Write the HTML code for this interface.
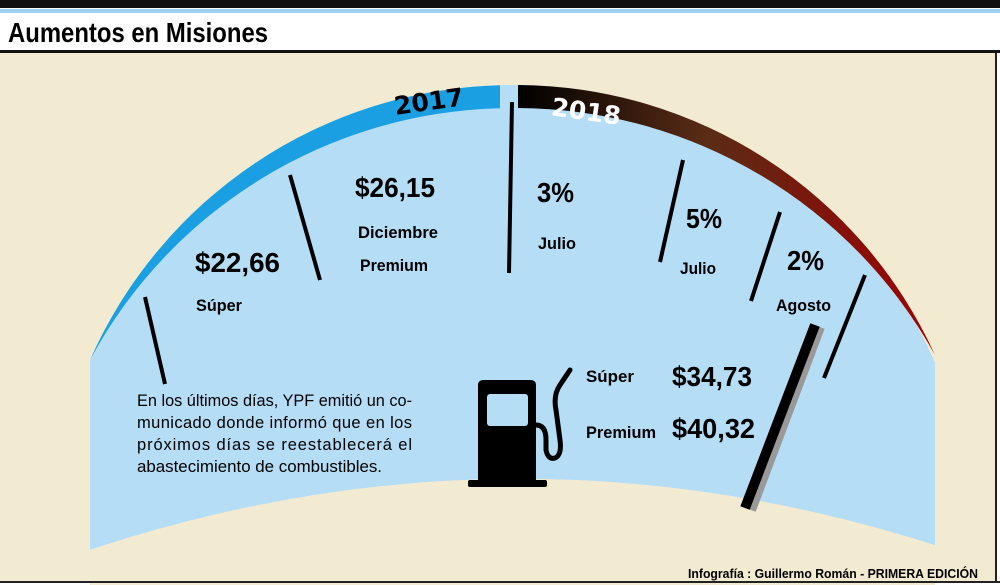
<!DOCTYPE html>
<html><head><meta charset="utf-8"><style>
html,body{margin:0;width:1000px;height:585px;overflow:hidden;background:#fff}
svg{display:block}
</style></head><body>
<svg width="1000" height="585" viewBox="0 0 1000 585" xmlns="http://www.w3.org/2000/svg">
<defs>
<linearGradient id="g18" x1="518" y1="0" x2="935" y2="0" gradientUnits="userSpaceOnUse">
<stop offset="0" stop-color="#000"/><stop offset="0.45" stop-color="#5a2c16"/><stop offset="1" stop-color="#a00000"/></linearGradient>
<clipPath id="dome"><rect x="90" y="0" width="845" height="600"/></clipPath>
</defs>
<rect x="0" y="0" width="1000" height="8" fill="#111"/>
<rect x="0" y="9" width="1000" height="4" fill="#9dd3f2"/>
<text x="8" y="42" textLength="260" lengthAdjust="spacingAndGlyphs" font-family="Liberation Sans, sans-serif" font-weight="bold" font-size="28" fill="#000">Aumentos en Misiones</text>
<rect x="0" y="50" width="1000" height="3" fill="#111"/>
<rect x="0" y="53" width="995" height="528" fill="#f3ead2"/>
<rect x="995" y="53" width="2" height="528" fill="#222"/>
<g clip-path="url(#dome)">
<circle cx="512" cy="546" r="461" fill="#b5ddf6"/>
<path d="M90,360 A461,461 0 0 1 500,85.2 L500,108.2 A479,479 0 0 0 90,360 Z" fill="#1aa0e2"/>
<path d="M518,85 A461,461 0 0 1 935,355 A479,479 0 0 0 518,108 Z" fill="url(#g18)"/>
<path d="M60,560 Q512,400 965,555 L965,600 L60,600 Z" fill="#f3ead2"/>
</g>
<rect x="0" y="581" width="1000" height="2" fill="#222"/>
<text x="430" y="110" transform="rotate(-8 430 110)" text-anchor="middle" font-family="DejaVu Sans" font-weight="bold" font-size="25" fill="#000">2017</text>
<text x="585" y="120" transform="rotate(8 585 120)" text-anchor="middle" font-family="DejaVu Sans" font-weight="bold" font-size="25" fill="#fff">2018</text>
<g stroke="#000" stroke-width="4">
<line x1="145" y1="297" x2="165" y2="384"/>
<line x1="290" y1="175" x2="320" y2="280"/>
<line x1="512" y1="102" x2="509" y2="273"/>
<line x1="683" y1="160" x2="660" y2="262"/>
<line x1="780" y1="212" x2="751" y2="301"/>
<line x1="865" y1="275" x2="824" y2="378"/>
</g>
<line x1="820" y1="327" x2="751" y2="510" stroke="#999" stroke-width="10"/>
<line x1="815" y1="325" x2="745" y2="508" stroke="#000" stroke-width="10"/>
<g font-family="Liberation Sans, sans-serif" font-weight="bold" fill="#000" font-size="28" lengthAdjust="spacingAndGlyphs">
<text x="195" y="272" textLength="85" lengthAdjust="spacingAndGlyphs">$22,66</text>
<text x="355" y="197" textLength="80" lengthAdjust="spacingAndGlyphs">$26,15</text>
<text x="537" y="202" textLength="37" lengthAdjust="spacingAndGlyphs">3%</text>
<text x="686" y="228" textLength="36" lengthAdjust="spacingAndGlyphs">5%</text>
<text x="787" y="270" textLength="37" lengthAdjust="spacingAndGlyphs">2%</text>
<text x="672" y="386" textLength="80" lengthAdjust="spacingAndGlyphs">$34,73</text>
<text x="672" y="438" textLength="83" lengthAdjust="spacingAndGlyphs">$40,32</text>
</g>
<g font-family="Liberation Sans, sans-serif" font-weight="bold" font-size="17" fill="#000">
<text x="196" y="311" textLength="46" lengthAdjust="spacingAndGlyphs">Súper</text>
<text x="358" y="238" textLength="80" lengthAdjust="spacingAndGlyphs">Diciembre</text>
<text x="360" y="271" textLength="68" lengthAdjust="spacingAndGlyphs">Premium</text>
<text x="538" y="249" textLength="38" lengthAdjust="spacingAndGlyphs">Julio</text>
<text x="680" y="274" textLength="36" lengthAdjust="spacingAndGlyphs">Julio</text>
<text x="776" y="311" textLength="55" lengthAdjust="spacingAndGlyphs">Agosto</text>
<text x="586" y="382" textLength="48" lengthAdjust="spacingAndGlyphs">Súper</text>
<text x="586" y="438" textLength="70" lengthAdjust="spacingAndGlyphs">Premium</text>
</g>
<g font-family="Liberation Sans, sans-serif" font-size="16.5" fill="#000">
<text x="137" y="406" textLength="275" lengthAdjust="spacingAndGlyphs">En los últimos días, YPF emitió un co-</text>
<text x="137" y="428" textLength="275">municado donde informó que en los</text>
<text x="137" y="450" textLength="275">próximos días se reestablecerá el</text>
<text x="137" y="472" textLength="245" lengthAdjust="spacingAndGlyphs">abastecimiento de combustibles.</text>
</g>
<g fill="#000">
<path d="M478,385 Q478,380 484,380 L530,380 Q536,380 536,385 L536,481 L478,481 Z"/>
<rect x="468" y="480" width="79" height="7" rx="2"/>
<rect x="487" y="394" width="41" height="32" rx="3" fill="#b5ddf6"/>
</g>
<path d="M536,425 Q546,425 546,440 L546,450 Q548,460 555,458 Q562,455 560,440 L556,410 Q553,395 560,385 L570,370" fill="none" stroke="#000" stroke-width="5" stroke-linecap="round"/>
<text x="978" y="578" text-anchor="end" textLength="290" lengthAdjust="spacingAndGlyphs" font-family="Liberation Sans, sans-serif" font-weight="bold" font-size="13" fill="#000">Infografía : Guillermo Román - PRIMERA EDICIÓN</text>
</svg>
</body></html>
